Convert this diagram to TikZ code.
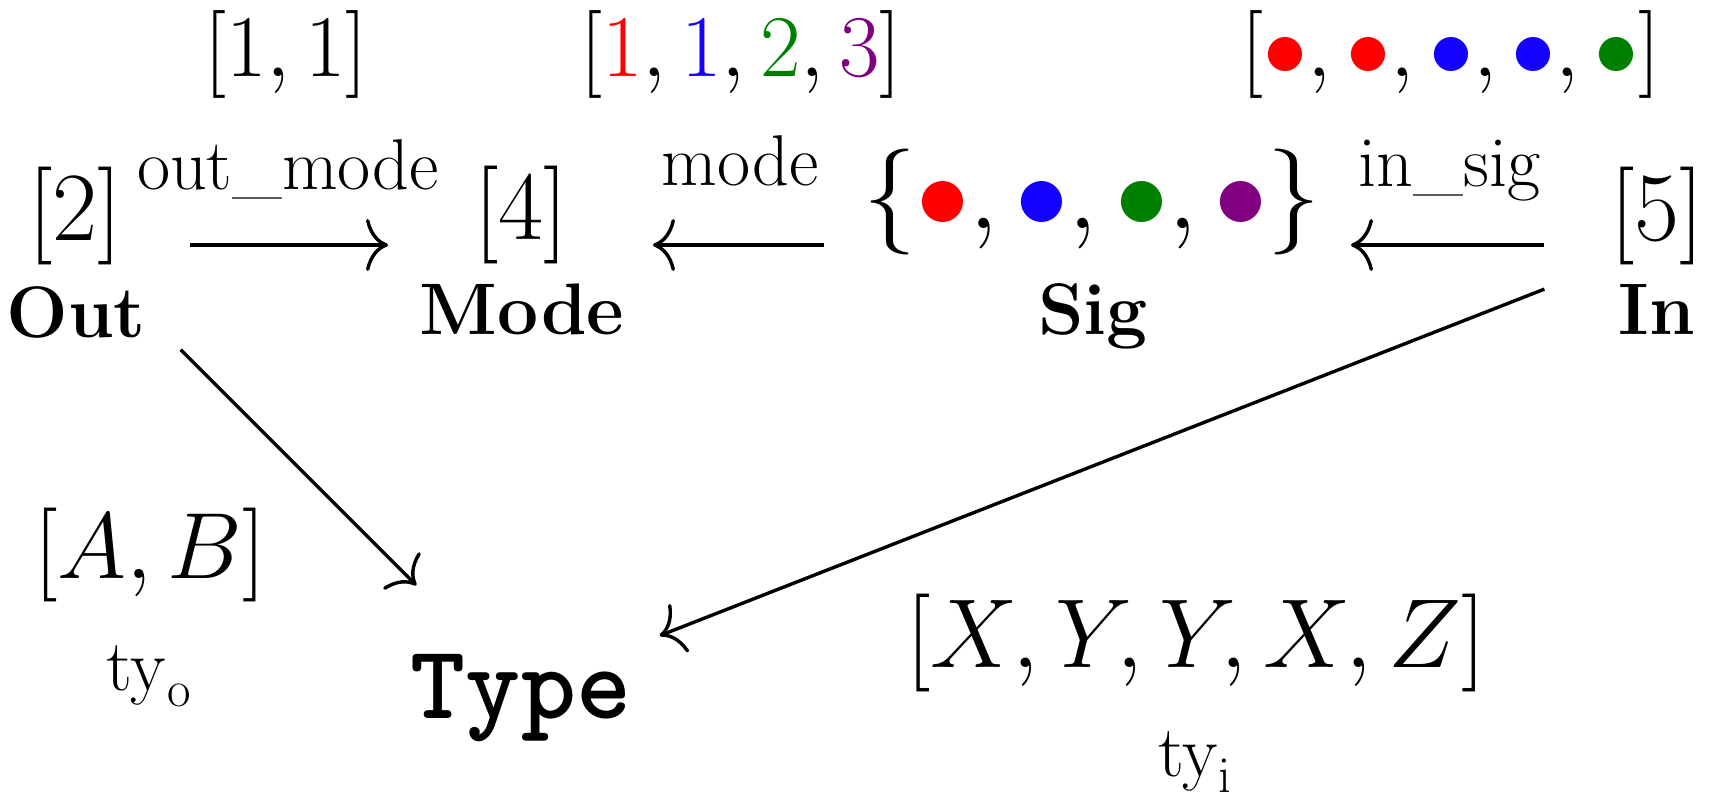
\RequirePackage{fix-cm}
\documentclass[tikz,border=0pt]{standalone}
\usetikzlibrary{arrows.meta}
\definecolor{cred}{RGB}{255,0,0}
\definecolor{cblue}{RGB}{20,0,255}
\definecolor{cgreen}{RGB}{0,128,0}
\definecolor{cpurple}{RGB}{128,0,128}
\newcommand{\fsz}[1]{\fontsize{#1}{#1}\selectfont}
\newcommand{\cbul}[1]{\textcolor{#1}{\bullet}}
\begin{document}
\begin{tikzpicture}[x=1pt,y=-1pt,
  txt/.style={anchor=base, inner sep=0pt, outer sep=0pt},
  toprow/.style={txt, font={\fsz{88}}},
  midrow/.style={txt, font={\fsz{98}}},
  bold/.style={txt, font={\fsz{73}\bfseries}},
  edgelbl/.style={txt, font={\fsz{72}}},
  sub/.style={txt, font={\fsz{73}}},
  arr/.style={line width=3.4pt, -{Computer Modern Rightarrow[length=22pt,width=52pt]}}]
\useasboundingbox (0,0) rectangle (1717,794);

% graph vertices (centres of the stacked labels)
\coordinate (out)  at (76,245);
\coordinate (mode) at (522,245);
\coordinate (sig)  at (1092,245);
\coordinate (in)   at (1657,245);
\coordinate (type) at (521,690);

% top row annotations
\node[toprow] (oneone) at (286,77) {$[1,1]$};
\node[toprow] (modes) at (741,77) {$[\textcolor{cred}{1},\textcolor{cblue}{1},\textcolor{cgreen}{2},\textcolor{cpurple}{3}]$};
\node[toprow] (insigs) at (1451,77) {$[\cbul{cred},\cbul{cred},\cbul{cblue},\cbul{cblue},\cbul{cgreen}]$};

% middle row values
\node[midrow] (outV)  at (75,241)  {$[2]$};
\node[midrow] (modeV) at (521,240) {$[4]$};
\node[txt, font={\fsz{106}}] (sigV) at (1092,229) {$\{\cbul{cred},\cbul{cblue},\cbul{cgreen},\cbul{cpurple}\}$};
\node[midrow] (inV)   at (1657,241) {$[5]$};

% bold names
\node[bold] (outL)  at (76,338)   {Out};
\node[bold] (modeL) at (522,335)  {Mode};
\node[bold] (sigL)  at (1093,335) {Sig};
\node[bold] (inL)   at (1657,335) {In};

% Type
\node[txt, font={\fsz{105}\ttfamily\bfseries}] (typeL) at (521,718) {Type};

% bottom annotations
\node[txt, font={\fsz{94}}] (tyoV) at (150,578) {$[A,B]$};
\node[sub] (tyoL) at (149,690) {$\mathrm{ty}_\mathrm{o}$};
\node[txt, font={\fsz{98}}] (tyiV) at (1196,667) {$[X,Y,Y,X,Z]$};
\node[sub] (tyiL) at (1195,776) {$\mathrm{ty}_\mathrm{i}$};

% connectors
\draw[arr, shorten <=114pt, shorten >=134pt] (out) -- (mode)
  node[edgelbl, midway, xshift=-11pt, yshift=55pt] (lout) {out\_mode};
\draw[arr, shorten <=268pt, shorten >=131pt] (sig) -- (mode)
  node[edgelbl, midway, xshift=-67pt, yshift=59pt] (lmode) {mode};
\draw[arr, shorten <=113pt, shorten >=259pt] (in) -- (sig)
  node[edgelbl, midway, xshift=75pt, yshift=58pt] (lin) {in\_sig};
\draw[arr, shorten <=148pt, shorten >=148pt] (out) -- (type);
\draw[arr, shorten <=121pt, shorten >=149pt] (in) -- (type);
\end{tikzpicture}
\end{document}
